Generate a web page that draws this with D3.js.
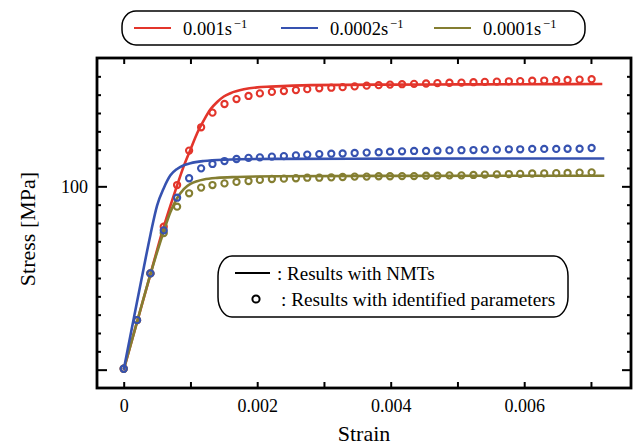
<!DOCTYPE html>
<html>
<head>
<meta charset="utf-8">
<script src="https://cdn.jsdelivr.net/npm/d3@7"></script>
<style>
  body { margin: 0; background: #fff; }
  svg { display: block; }
</style>
</head>
<body>
<svg id="chart" width="636" height="446" font-family="Liberation Serif, DejaVu Serif, serif"></svg>
<script>
// ---- data -------------------------------------------------------------
const rateLabels = ["0.001s", "0.0002s", "0.0001s"];
const rateColors = ["#e3352b", "#3652b0", "#847e31"];

// strain values of the identified-parameter results (circles)
const idStrain = [0, 0.0002, 0.0004, 0.0006, 0.0008, 0.00098, 0.00116, 0.00133, 0.00151, 0.00169,
  0.00187, 0.00204, 0.00222, 0.0024, 0.00258, 0.00275, 0.00293, 0.00311, 0.00328, 0.00346,
  0.00364, 0.00382, 0.00399, 0.00417, 0.00435, 0.00453, 0.0047, 0.00488, 0.00506, 0.00524,
  0.00541, 0.00559, 0.00577, 0.00594, 0.00612, 0.0063, 0.00648, 0.00665, 0.00683, 0.00701];
const idStress001 = [0.5, 27, 52.5, 78, 100.7, 119.5, 132.2, 140.2, 144.9, 147.6,
  149.3, 150.7, 151.5, 152.0, 152.5, 153.0, 153.5, 153.8, 154.1, 154.5,
  154.9, 155.2, 155.5, 155.7, 155.9, 156.1, 156.3, 156.5, 156.6, 156.8,
  157.0, 157.1, 157.3, 157.4, 157.6, 157.7, 157.9, 158.0, 158.2, 158.4];
const idStress0002 = [0.5, 27, 52.5, 76, 93.8, 104.4, 109.8, 112.2, 113.8, 114.9,
  115.5, 115.8, 116.2, 116.5, 116.9, 117.3, 117.6, 117.8, 117.9, 118.2,
  118.4, 118.6, 118.9, 119.1, 119.3, 119.3, 119.4, 119.6, 119.7, 119.8,
  120.0, 120.0, 120.2, 120.2, 120.4, 120.4, 120.4, 120.5, 120.5, 120.9];
const idStress0001 = [0.5, 27, 52.5, 74.5, 88.9, 96.2, 99.3, 100.7, 101.6, 102.4,
  102.9, 103.5, 104.0, 104.2, 104.4, 104.7, 104.7, 104.9, 105.1, 105.3,
  105.3, 105.5, 105.5, 105.6, 105.6, 105.8, 105.8, 106.0, 106.0, 106.2,
  106.4, 106.5, 106.7, 106.8, 107.0, 107.1, 107.2, 107.3, 107.5, 107.6];

// NMT results (solid curves)
const nmtStrain001 = [0, 0.0002, 0.0004, 0.0006, 0.0007, 0.0008, 0.0009, 0.001, 0.0011, 0.0012,
  0.0013, 0.0014, 0.0015, 0.0016, 0.0018, 0.002, 0.0022, 0.0028, 0.004, 0.005, 0.006, 0.00717];
const nmtStress001 = [0, 26, 52, 78, 89.5, 100.5, 111, 120, 129, 136,
  142, 146, 149, 150.8, 152.9, 154.0, 154.4, 155.2, 155.5, 155.6, 155.7, 155.8];
const nmtStrain0002 = [0, 0.0001, 0.0002, 0.0003, 0.0004, 0.0005, 0.0006, 0.0007, 0.0008, 0.0009,
  0.001, 0.0012, 0.0015, 0.0023, 0.004, 0.0072];
const nmtStress0002 = [0, 18.5, 37, 55.5, 73.5, 89.5, 99, 106, 109.5, 111.5,
  112.6, 113.8, 114.5, 115.0, 115.1, 115.2];
const nmtStrain0001 = [0, 0.0002, 0.0004, 0.0006, 0.0007, 0.0008, 0.0009, 0.001, 0.0011, 0.0012,
  0.0014, 0.0017, 0.0023, 0.004, 0.0072];
const nmtStress0001 = [0, 26, 52, 75.5, 86, 93.5, 98.5, 101.3, 102.8, 103.7,
  104.6, 105.1, 105.5, 105.7, 105.8];

const xMajorTicks = [0, 0.002, 0.004, 0.006];
const xTickLabels = ["0", "0.002", "0.004", "0.006"];
const xMinorTicks = [0.001, 0.003, 0.005, 0.007];
const yMajorTicks = [0, 100];
const yTickLabels = ["", "100"];
const yMinorTicks = [10, 20, 30, 40, 50, 60, 70, 80, 90, 110, 120, 130, 140, 150, 160];

const FONT = "Liberation Serif, DejaVu Serif, serif";

// ---- layout -----------------------------------------------------------
const svg = d3.select("#chart");
const L = 97, R = 631, T = 58, B = 388;
const x = d3.scaleLinear().domain([-0.0004, 0.0076]).range([L, R]);
const y = d3.scaleLinear().domain([-10, 170]).range([B, T]);

svg.append("rect").attr("width", 636).attr("height", 446).attr("fill", "#fff");

// ---- series -----------------------------------------------------------
const series = [
  { color: rateColors[0], nmtX: nmtStrain001, nmtY: nmtStress001, idY: idStress001 },
  { color: rateColors[2], nmtX: nmtStrain0001, nmtY: nmtStress0001, idY: idStress0001 },
  { color: rateColors[1], nmtX: nmtStrain0002, nmtY: nmtStress0002, idY: idStress0002 }
];

const line = d3.line().x(d => x(d[0])).y(d => y(d[1])).curve(d3.curveMonotoneX);
const plot = svg.append("g");

series.forEach(s => {
  plot.append("path")
    .datum(s.nmtX.map((v, i) => [v, s.nmtY[i]]))
    .attr("d", line)
    .attr("fill", "none")
    .attr("stroke", s.color)
    .attr("stroke-width", 2.6);
  plot.append("g").selectAll("circle")
    .data(idStrain.map((v, i) => [v, s.idY[i]]))
    .join("circle")
    .attr("cx", d => x(d[0]))
    .attr("cy", d => y(d[1]))
    .attr("r", 3.1)
    .attr("fill", "none")
    .attr("stroke", s.color)
    .attr("stroke-width", 2.1);
});

// ---- axes (ticks pointing inward on all four sides) -------------------
function styleAxis(g) {
  g.attr("font-family", FONT).attr("font-size", 18);
  g.select(".domain").remove();
  g.selectAll(".tick line").attr("stroke", "#000").attr("stroke-width", 2);
  g.selectAll(".tick text").attr("fill", "#000");
}

const xAll = xMajorTicks.concat(xMinorTicks);
svg.append("g").attr("transform", `translate(0,${B})`)
  .call(d3.axisBottom(x).tickValues(xAll).tickSize(-6).tickPadding(11)
    .tickFormat(d => { const i = xMajorTicks.indexOf(d); return i >= 0 ? xTickLabels[i] : ""; }))
  .call(styleAxis);
svg.append("g").attr("transform", `translate(0,${T})`)
  .call(d3.axisTop(x).tickValues(xAll).tickSize(-6).tickFormat(""))
  .call(styleAxis);

svg.append("g").attr("transform", `translate(${L},0)`)
  .call(d3.axisLeft(y).tickValues(yMajorTicks).tickSize(-10).tickPadding(9)
    .tickFormat((d, i) => yTickLabels[i]))
  .call(styleAxis);
svg.append("g").attr("transform", `translate(${L},0)`)
  .call(d3.axisLeft(y).tickValues(yMinorTicks).tickSize(-4).tickFormat(""))
  .call(styleAxis);
svg.append("g").attr("transform", `translate(${R},0)`)
  .call(d3.axisRight(y).tickValues(yMajorTicks).tickSize(-9).tickFormat(""))
  .call(styleAxis);
svg.append("g").attr("transform", `translate(${R},0)`)
  .call(d3.axisRight(y).tickValues(yMinorTicks).tickSize(-4).tickFormat(""))
  .call(styleAxis);

// frame
svg.append("rect")
  .attr("x", L).attr("y", T).attr("width", R - L).attr("height", B - T)
  .attr("fill", "none").attr("stroke", "#000").attr("stroke-width", 2.8);

// axis titles
svg.append("text")
  .attr("x", (L + R) / 2).attr("y", 441)
  .attr("text-anchor", "middle").attr("font-size", 22)
  .text("Strain");
svg.append("text")
  .attr("transform", `translate(35,${(T + B) / 2 + 6}) rotate(-90)`)
  .attr("text-anchor", "middle").attr("font-size", 22)
  .text("Stress [MPa]");

// ---- legend: strain rates --------------------------------------------
const lg = svg.append("g");
lg.append("rect")
  .attr("x", 122).attr("y", 11).attr("width", 463).attr("height", 34)
  .attr("rx", 14).attr("ry", 15)
  .attr("fill", "#fff").attr("stroke", "#000").attr("stroke-width", 1.5);
const legendX = [134, 281, 434];
rateLabels.forEach((lab, i) => {
  lg.append("line")
    .attr("x1", legendX[i]).attr("x2", legendX[i] + 37)
    .attr("y1", 28).attr("y2", 28)
    .attr("stroke", rateColors[i]).attr("stroke-width", 2);
  const t = lg.append("text")
    .attr("x", legendX[i] + 49).attr("y", 35)
    .attr("font-size", 18.5);
  t.append("tspan").text(lab);
  t.append("tspan").attr("dx", 2).attr("dy", -7).attr("font-size", 12.5).text("\u22121");
});

// ---- legend: marker meaning ------------------------------------------
const lg2 = svg.append("g");
lg2.append("rect")
  .attr("x", 218).attr("y", 256).attr("width", 350).attr("height", 61)
  .attr("rx", 14).attr("ry", 20)
  .attr("fill", "#fff").attr("stroke", "#000").attr("stroke-width", 1.5);
lg2.append("line")
  .attr("x1", 235).attr("x2", 270).attr("y1", 273).attr("y2", 273)
  .attr("stroke", "#000").attr("stroke-width", 2);
lg2.append("text").attr("x", 277).attr("y", 280).attr("font-size", 19)
  .text(": Results with NMTs");
lg2.append("circle").attr("cx", 256).attr("cy", 299).attr("r", 3.6)
  .attr("fill", "none").attr("stroke", "#000").attr("stroke-width", 2);
lg2.append("text").attr("x", 281).attr("y", 306).attr("font-size", 19.3)
  .text(": Results with identified parameters");
</script>
</body>
</html>
